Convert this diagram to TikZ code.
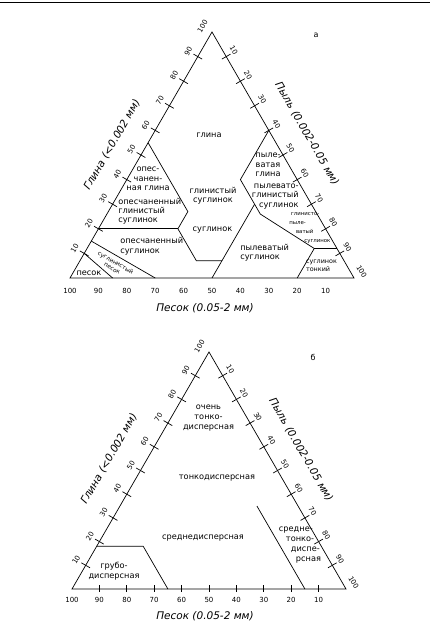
\documentclass[tikz,border=0pt]{standalone}
\usepackage{fontspec}
\setmainfont{DejaVu Sans}
\begin{document}
\begin{tikzpicture}[x=1pt, y=1pt, line width=0.7pt,
    lbl/.style={font=\fontsize{8.2}{9.3}\selectfont, align=center, inner sep=0pt},
    lblb/.style={font=\fontsize{8.2}{10}\selectfont, align=center, inner sep=0pt},
    tiny/.style={font=\fontsize{5.4}{9}\selectfont, align=left, inner sep=0pt},
    num/.style={font=\fontsize{7}{8}\selectfont, inner sep=0pt},
    axtitle/.style={font=\fontsize{10.5}{12}\selectfont\itshape, inner sep=0pt}]

    \useasboundingbox (0,0) rectangle (430,625);

    % 0. 页眉横线
    \draw[line width=0.6pt] (0,623) -- (430,623);

    % 1. 上图 а：斜坐标系，(粉粒, 粘粒)，砂粒 = 100 - 两者之和
    \begin{scope}[shift={(70,347)}, x={(2.84pt,0pt)}, y={(1.42pt,2.46pt)}]
        \draw (0,0) -- (100,0) -- (0,100) -- cycle;
        % 刻度（底边没有刻度线）
        \foreach \v [evaluate=\v as \w using int(100-\v)] in {10,20,...,90} {
            \draw (0,\v) ++(150:5pt) -- ++(-30:10pt);
            \draw (\v,\w) ++(30:5pt) -- ++(210:10pt);
        }
        \foreach \v [evaluate=\v as \w using int(100-\v)] in {10,20,...,100} {
            \path (0,\v) ++(150:11pt) node[num, rotate=60] (cla\v) {\v};
            \path (\v,\w) ++(40:10pt) node[num, rotate=-60] (sia\v) {\v};
            \path (\w,0) ++(0,-13pt) node[num] (saa\v) {\v};
        }
        % 2. 分区线
        \draw (0,55) -- (28,27) -- (28,20) -- (41,7) -- (50,7);
        \draw (0,20) -- (28,20);
        \draw (50,0) -- (50,30);
        \draw (40,60) -- (40,40) -- (54,26) -- (80,12) -- (88,12);
        \draw (80,12) -- (80,0);
        \draw (0,15) -- (30,0);
        \draw (0,10) -- (15,0);
    \end{scope}

    % 坐标轴名称
    \node[axtitle, rotate=60] (clta) at (112,480) {Глина (<0.002 мм)};
    \node[axtitle, rotate=-60] (sita) at (307,491) {Пыль (0.002-0.05 мм)};
    \node[axtitle] (sata) at (205,317) {Песок (0.05-2 мм)};
    \node[font=\fontsize{8}{9}\selectfont] (labA) at (316,590) {а};

    % 3. 上图分区名称
    \node[lbl] (gl) at (209,490) {глина};
    \node[lbl] (opgl) at (148,446) {опес-\\чанен-\\ная глина};
    \node[lbl] (glsu) at (213,429.6) {глинистый\\суглинок};
    \node[lbl, anchor=west, align=left] (opglsu) at (118,413.9) {опесчаненный\\глинистый\\суглинок};
    \node[lbl] (su) at (212.5,395) {суглинок};
    \node[lbl, anchor=west, align=left] (opsu) at (120,378.7) {опесчаненный\\[1.2pt]суглинок};
    \node[tiny, align=center, font=\fontsize{5.8}{6.8}\selectfont, rotate=-30] (supe) at (114,359.5) {суглинистый\\песок};
    \node[lbl] (pe) at (89,352) {песок};
    \node[lbl] (pygl) at (268,460) {пыле-\\ватая\\глина};
    \node[lbl, anchor=east, align=right] (pyglsu) at (299,428.7) {пылевато-\\глинистый\\суглинок};
    \node[tiny, anchor=west] (glpysu) at (289,397.3) {\hspace*{1.7pt}глинисто-\\пыле-\\\hspace*{6.7pt}ватый\\\hspace*{15pt}суглинок};
    \node[lbl, anchor=west, align=left] (pysu) at (240,372.5) {пылеватый\\суглинок};
    \node[tiny, anchor=west, font=\fontsize{6.4}{8.4}\selectfont] (suto) at (305.7,359.5) {суглинок\\тонкий};

    % 4. 下图 б：同样的斜坐标系
    \begin{scope}[shift={(72,36)}, x={(2.74pt,0pt)}, y={(1.37pt,2.37pt)}]
        \draw (0,0) -- (100,0) -- (0,100) -- cycle;
        % 刻度（底边也有刻度线）
        \foreach \v [evaluate=\v as \w using int(100-\v)] in {10,20,...,90} {
            \draw (0,\v) ++(150:5pt) -- ++(-30:10pt);
            \draw (\v,\w) ++(30:5pt) -- ++(210:10pt);
            \draw (\v,0) ++(0,3.5pt) -- ++(0,-7pt);
        }
        \foreach \v [evaluate=\v as \w using int(100-\v)] in {10,20,...,100} {
            \path (0,\v) ++(150:11pt) node[num, rotate=60] (clb\v) {\v};
            \path (\v,\w) ++(40:10pt) node[num, rotate=-60] (sib\v) {\v};
            \path (\w,0) ++(0,-11pt) node[num] (sab\v) {\v};
        }
        % 5. 分区线
        \draw (0,18) -- (17,18) -- (35,0);
        \draw (50,35) -- (85,0);
    \end{scope}

    % 坐标轴名称
    \node[axtitle, rotate=60] (cltb) at (109,166) {Глина (<0.002 мм)};
    \node[axtitle, rotate=-60] (sitb) at (301,175) {Пыль (0.002-0.05 мм)};
    \node[axtitle] (satb) at (205,9) {Песок (0.05-2 мм)};
    \node[font=\fontsize{8}{9}\selectfont] (labB) at (313,268) {б};

    % 6. 下图分区名称
    \node[lblb] (ochto) at (208.5,206.5) {очень\\тонко-\\дисперсная};
    \node[lblb] (to) at (217,147.3) {тонкодисперсная};
    \node[lblb] (sr) at (203,86.7) {среднедисперсная};
    \node[lblb, align=left] (srto) at (300,80) {средне-\\\hspace*{7pt}тонко-\\\hspace*{12pt}диспе-\\\hspace*{17pt}рсная};
    \node[lblb] (gr) at (114,54) {грубо-\\дисперсная};

\end{tikzpicture}
\end{document}
